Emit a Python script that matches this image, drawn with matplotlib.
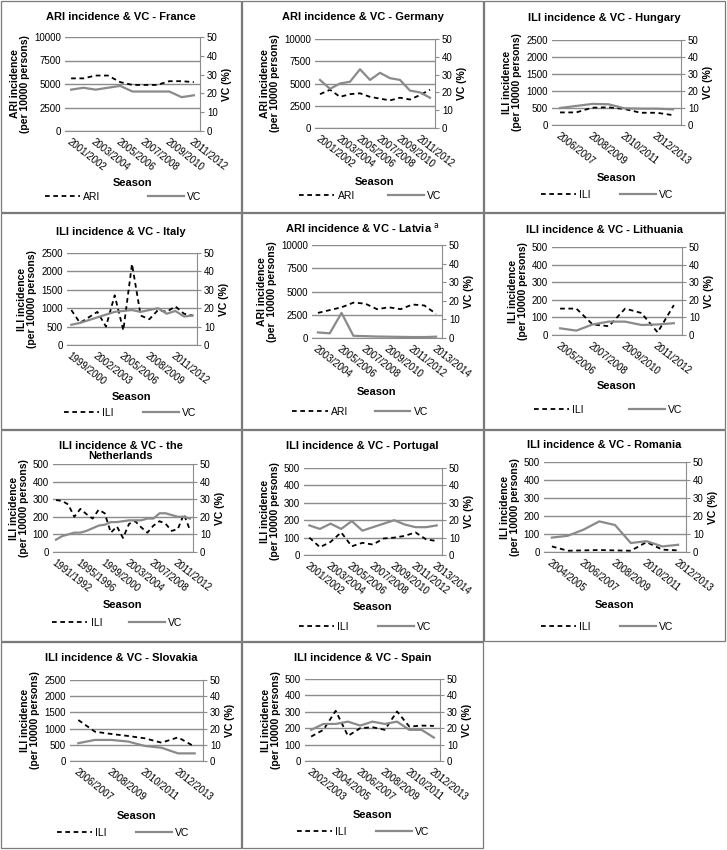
import matplotlib.pyplot as plt
from matplotlib.lines import Line2D
from matplotlib.patches import Rectangle

plt.rcParams['font.family'] = ['Liberation Sans', 'DejaVu Sans']


def seasons(first, last):
    return [f"{y}/{y + 1}" for y in range(first, last + 1)]


# data (incidence per 10000 persons, VC in %)
france_seasons = seasons(2001, 2011)
france_ari = [5600, 5600, 5900, 5900, 5200, 4900, 4900, 4900, 5300, 5300, 5200]
france_vc = [22, 23, 22, 23, 24, 21, 21, 21, 21, 18, 19]

germany_seasons = seasons(2001, 2012)
germany_ari = [3800, 4300, 3500, 3800, 3900, 3500, 3300, 3100, 3400, 3200, 3700, 4300]
germany_vc = [27, 22, 25, 26, 33, 27, 31, 28, 27, 21, 20, 17]

hungary_seasons = seasons(2006, 2013)
hungary_ili = [370, 370, 510, 520, 470, 360, 360, 290]
hungary_vc = [10, 11.2, 12.4, 12.2, 9.8, 9.6, 9.6, 9.2]

italy_seasons = seasons(1999, 2013)
italy_ili = [950, 600, 750, 900, 500, 1350, 400, 2200, 800, 700, 950, 900, 1050, 850, 800]
italy_vc = [11, 12, 13.5, 15, 16.5, 18, 18.5, 19, 18, 19, 20, 17, 18.5, 15.5, 16]

latvia_seasons = seasons(2003, 2013)
latvia_ari = [2700, 3000, 3300, 3800, 3700, 3100, 3300, 3100, 3600, 3500, 2600]
latvia_vc = [3, 2.5, 13.5, 1.2, 1, 0.8, 0.7, 0.6, 0.5, 0.5, 0.7]

lithuania_seasons = seasons(2005, 2012)
lithuania_ili = [150, 150, 60, 50, 150, 125, 15, 170]
lithuania_vc = [3.8, 2.5, 6, 7.6, 7.6, 5.7, 6, 6.7]

netherlands_seasons = seasons(1991, 2013)
netherlands_ili = [295, 290, 270, 200, 245, 215, 190, 240, 220, 110, 145, 80,
                   160, 175, 140, 110, 150, 175, 160, 120, 130, 215, 125]
netherlands_vc = [7, 9, 10, 11, 11, 12, 13.5, 15, 15.5, 17, 17, 17.5,
                  18, 18, 18, 19, 19, 22, 22, 21, 20, 20, 19]

portugal_seasons = seasons(2001, 2013)
portugal_ili = [100, 45, 75, 130, 50, 70, 60, 95, 100, 110, 130, 90, 80]
portugal_vc = [17, 15, 18, 15, 19.5, 14, 16, 18, 20, 17.5, 16, 16, 17]

romania_seasons = seasons(2004, 2012)
romania_ili = [31, 7, 9, 11, 9, 7, 55, 13, 9]
romania_vc = [8, 9, 12.4, 17, 15, 5, 6, 3.1, 4]

slovakia_seasons = seasons(2006, 2013)
slovakia_ili = [1265, 905, 833, 772, 700, 566, 730, 442]
slovakia_vc = [11, 13, 13, 12, 9.3, 8.2, 4.7, 4.7]

spain_seasons = seasons(2002, 2012)
spain_ili = [149, 190, 306, 153, 200, 206, 190, 302, 210, 216, 214]
spain_vc = [19, 22.6, 22.6, 24, 21.6, 24, 22.6, 24, 19, 19, 14.3]

ILI_LABEL = 'ILI incidence\n(per 10000 persons)'
ARI_LABEL = 'ARI incidence\n(per 10000 persons)'

# title, series name, y label, seasons, incidence, VC, y max, y tick step, label interval
panels = [
    ('ARI incidence & VC - France', 'ARI', ARI_LABEL, france_seasons, france_ari, france_vc, 10000, 2500, 2),
    ('ARI incidence & VC - Germany', 'ARI', ARI_LABEL, germany_seasons, germany_ari, germany_vc, 10000, 2500, 2),
    ('ILI incidence & VC - Hungary', 'ILI', ILI_LABEL, hungary_seasons, hungary_ili, hungary_vc, 2500, 500, 2),
    ('ILI incidence & VC - Italy', 'ILI', ILI_LABEL, italy_seasons, italy_ili, italy_vc, 2500, 500, 3),
    ('ARI incidence & VC - Latvia $^{\\mathrm{a}}$', 'ARI', 'ARI incidence\n(per  10000 persons)',
     latvia_seasons, latvia_ari, latvia_vc, 10000, 2500, 2),
    ('ILI incidence & VC - Lithuania', 'ILI', ILI_LABEL, lithuania_seasons, lithuania_ili, lithuania_vc,
     500, 100, 2),
    ('ILI incidence & VC - the\nNetherlands', 'ILI', ILI_LABEL, netherlands_seasons, netherlands_ili,
     netherlands_vc, 500, 100, 4),
    ('ILI incidence & VC - Portugal', 'ILI', ILI_LABEL, portugal_seasons, portugal_ili, portugal_vc,
     500, 100, 2),
    ('ILI incidence & VC - Romania', 'ILI', ILI_LABEL, romania_seasons, romania_ili, romania_vc, 500, 100, 2),
    ('ILI incidence & VC - Slovakia', 'ILI', ILI_LABEL, slovakia_seasons, slovakia_ili, slovakia_vc,
     2500, 500, 2),
    ('ILI incidence & VC - Spain', 'ILI', ILI_LABEL, spain_seasons, spain_ili, spain_vc, 500, 100, 2),
]

# layout in pixels: plot box (x0, x1, y0, y1), title y, season y, legend (cx, cy, colspacing)
cols = [(1, 241), (242, 483), (484, 725)]
rows = [(1, 212), (213, 429), (430, 641), (642, 848)]
layout = [
    ((65, 200, 37, 131), 17, 183, (123, 197, 4.6)),
    ((315, 435, 39, 128), 17, 182, (370, 196, 3.2)),
    ((552, 681, 40, 125), 18, 178, (607, 195, 2.8)),
    ((67, 197, 253, 345), 232, 397, (130, 413, 2.8)),
    ((312, 442, 245, 338), 228, 392, (360, 412, 2.6)),
    ((552, 682, 247, 335), 230, 386, (608, 410, 4.4)),
    ((53, 193, 464, 552), 451, 605, (117, 623, 2.6)),
    ((304, 442, 468, 555), 446, 607, (365, 627, 2.8)),
    ((544, 686, 462, 552), 445, 605, (607, 627, 2.8)),
    ((70, 203, 680, 761), 658, 816, (123, 833, 2.8)),
    ((305, 440, 679, 761), 658, 815, (363, 832, 2.8)),
]

W, H = 727, 850
GRID = '#8c8c8c'
VC_COLOR = '#8a8a8a'
TICK_FS = 7

fig = plt.figure(figsize=(W / 100, H / 100), dpi=100)


def fx(px):
    return px / W


def fy(py):
    return 1 - py / H


for i, (panel, lay) in enumerate(zip(panels, layout)):
    title, kind, ylab, cats, inc, vc, ymax, ystep, step = panel
    (x0, x1, y0, y1), title_y, season_y, (lcx, lcy, colsp) = lay
    cx0, cx1 = cols[i % 3]
    cy0, cy1 = rows[i // 3]

    fig.add_artist(Rectangle((fx(cx0), fy(cy1)), (cx1 - cx0) / W, (cy1 - cy0) / H,
                             transform=fig.transFigure, fill=False, ec='#7a7a7a', lw=0.9))

    ax = fig.add_axes([fx(x0), fy(y1), (x1 - x0) / W, (y1 - y0) / H])
    ax2 = ax.twinx()
    n = len(cats)
    xs = list(range(n))

    ax.set_xlim(-0.5, n - 0.5)
    ax.set_ylim(0, ymax)
    ax.set_yticks(range(0, ymax + 1, ystep))
    ax.yaxis.grid(True, color=GRID, lw=1.0)
    ax.set_axisbelow(True)
    ax2.set_ylim(0, 50)
    ax2.set_yticks(range(0, 51, 10))

    ax.plot(xs, inc, color='black', lw=1.3, dashes=(2.6, 2.0))
    ax2.plot(xs, vc, color=VC_COLOR, lw=1.6)

    ax.set_xticks(xs[::step])
    ax.set_xticklabels(cats[::step], rotation=-38, ha='left', va='top',
                       rotation_mode='anchor', fontsize=TICK_FS)
    ax.tick_params(axis='x', length=0, pad=4)
    ax.tick_params(axis='y', length=0, pad=3, labelsize=TICK_FS)
    ax2.tick_params(axis='y', length=3, width=0.8, color=GRID, pad=2, labelsize=TICK_FS)

    for s in ['left', 'top', 'right']:
        ax.spines[s].set_visible(False)
    ax.spines['bottom'].set_color(GRID)
    for s in ['left', 'top', 'bottom']:
        ax2.spines[s].set_visible(False)
    ax2.spines['right'].set_color(GRID)

    ax.set_ylabel(ylab, fontsize=7.5, fontweight='bold', labelpad=3, linespacing=1.0)
    ax2.set_ylabel('VC (%)', fontsize=7.5, fontweight='bold', labelpad=3)

    fig.text(fx((cx0 + cx1) / 2), fy(title_y), title, ha='center', va='center',
             fontsize=8, fontweight='bold', linespacing=1.05)
    fig.text(fx((x0 + x1) / 2), fy(season_y), 'Season', ha='center', va='center',
             fontsize=8, fontweight='bold')

    handles = [Line2D([], [], color='black', lw=1.3, dashes=(2.6, 2.0)),
               Line2D([], [], color=VC_COLOR, lw=1.6)]
    fig.legend(handles, [kind, 'VC'], loc='center', bbox_to_anchor=(fx(lcx), fy(lcy)),
               ncol=2, frameon=False, fontsize=7.5, handlelength=3.4, handletextpad=0.3,
               columnspacing=colsp, borderpad=0, borderaxespad=0)

fig.savefig('out.png', dpi=100, facecolor='white')
